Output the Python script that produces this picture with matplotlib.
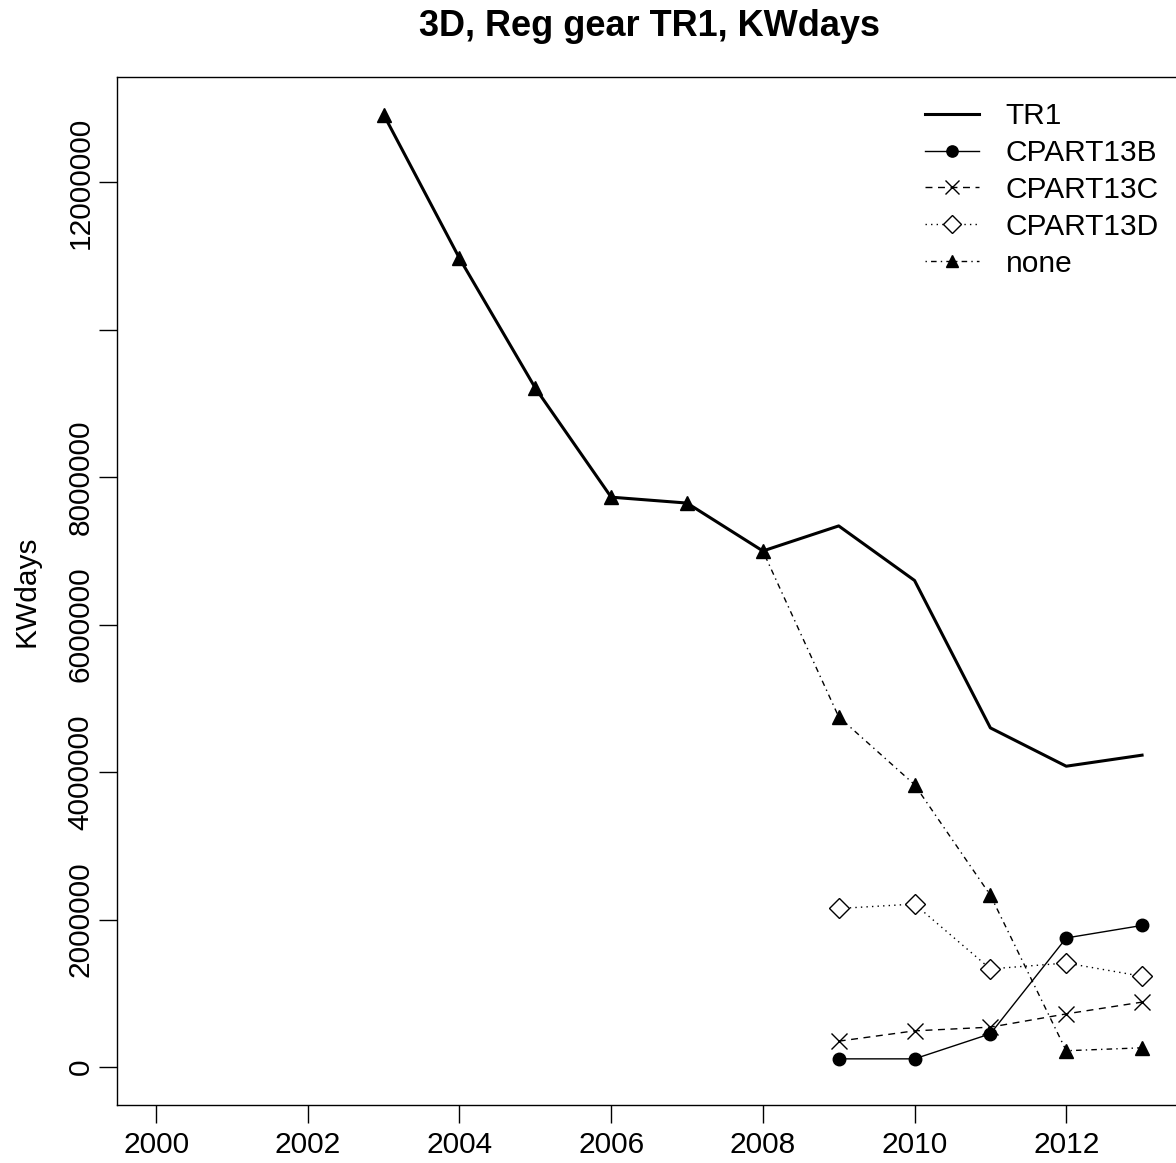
import matplotlib
matplotlib.use("Agg")
import matplotlib.pyplot as plt
import numpy as np

plt.rcParams['font.family'] = ['Liberation Sans', 'DejaVu Sans']

# data
years = [2003, 2004, 2005, 2006, 2007, 2008, 2009, 2010, 2011, 2012, 2013]
tr1 = [12920000, 10970000, 9210000, 7730000, 7650000, 7000000,
       7340000, 6600000, 4600000, 4080000, 4230000]
none_vals = [12920000, 10970000, 9210000, 7730000, 7650000, 7000000,
             4750000, 3830000, 2330000, 220000, 260000]

years_cp = [2009, 2010, 2011, 2012, 2013]
cpart13b = [110000, 110000, 450000, 1750000, 1920000]
cpart13c = [350000, 490000, 540000, 720000, 880000]
cpart13d = [2150000, 2210000, 1330000, 1410000, 1230000]

x_ticks = [2000, 2002, 2004, 2006, 2008, 2010, 2012]
y_ticks = [0, 2000000, 4000000, 6000000, 8000000, 10000000, 12000000]
y_tick_labels = ['0', '2000000', '4000000', '6000000', '8000000', '', '12000000']

W, H = 1176, 1163
fig = plt.figure(figsize=(W / 100, H / 100), dpi=100)
ax = fig.add_axes([116.7 / W, 1 - 1105 / H, (1181.5 - 116.7) / W, (1105 - 77) / H])

# series
ax.plot(years, none_vals, color='black', lw=1, dashes=(1, 3, 4, 3),
        marker='^', ms=10, mfc='black', mec='black', label='none', zorder=2)
ax.plot(years, tr1, color='black', lw=2.2, solid_joinstyle='round',
        label='TR1', zorder=3)
ax.plot(years_cp, cpart13b, color='black', lw=1, marker='o', ms=9,
        mfc='black', mec='black', label='CPART13B', zorder=3)
ax.plot(years_cp, cpart13c, color='black', lw=1, dashes=(5, 4), marker='x',
        ms=11, mew=1, label='CPART13C', zorder=3)
ax.plot(years_cp, cpart13d, color='black', lw=1, dashes=(1, 3), marker='D',
        ms=10, mfc='white', mec='black', mew=1, label='CPART13D', zorder=3)

ax.set_xlim(1999.48, 2013.52)
ax.set_ylim(-516000, 13430000)
ax.set_xticks(x_ticks)
ax.set_xticklabels([str(v) for v in x_ticks])
ax.set_yticks(y_ticks)
ax.set_yticklabels(y_tick_labels, rotation=90, va='center')
ax.tick_params(axis='both', labelsize=21.5, length=13, width=1, direction='out', pad=6)
ax.tick_params(axis='y', pad=3)
for s in ax.spines.values():
    s.set_linewidth(1)

ax.set_ylabel('KWdays', fontsize=21.5, labelpad=19)
fig.text((116.7 + 1181.5) / 2 / W, 1 - 26 / H, '3D, Reg gear TR1, KWdays',
         ha='center', va='center', fontsize=26, fontweight='bold')

handles, labels = ax.get_legend_handles_labels()
order = ['TR1', 'CPART13B', 'CPART13C', 'CPART13D', 'none']
hmap = dict(zip(labels, handles))
leg = ax.legend([hmap[k] for k in order], order, loc='upper left',
                bbox_to_anchor=(925 / W, 1 - 102 / H), bbox_transform=fig.transFigure,
                frameon=False, fontsize=21.5, handlelength=1.8, handletextpad=0.9,
                labelspacing=0.3, borderaxespad=0, borderpad=0, markerscale=0.9)

fig.savefig('out.png', dpi=100)
